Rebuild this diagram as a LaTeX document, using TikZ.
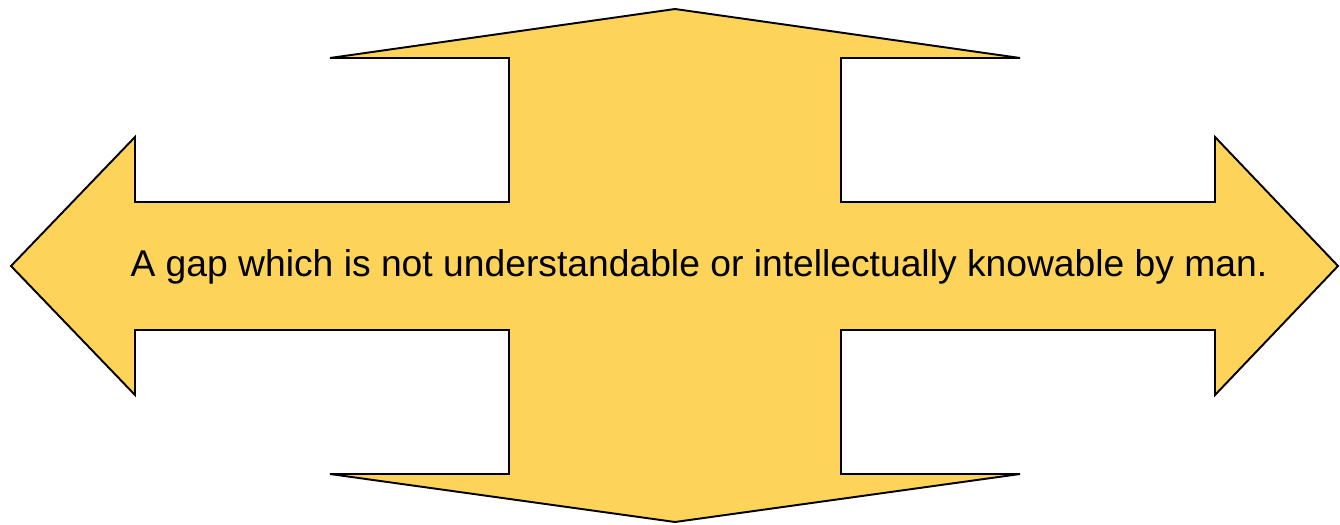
\documentclass[tikz,border=0pt]{standalone}
\usepackage{fontspec}
\setmainfont{Liberation Sans}
\definecolor{arrowfill}{RGB}{253,212,89}
\begin{document}
\begin{tikzpicture}[x=0.2mm,y=-0.2mm,line join=miter]
\useasboundingbox (0,0) rectangle (1340,525);
\draw[fill=arrowfill,line width=1.1pt] (675,9)--(1020,58)--(841,58)--(841,202)--(1215,202)--(1215,137)--(1338,266)
  --(1215,395)--(1215,330)--(841,330)--(841,474)--(1020,474)--(675,522)--(330,474)--(509,474)--(509,330)
  --(135,330)--(135,395)--(11,266)--(135,137)--(135,202)--(509,202)--(509,58)--(330,58)--cycle;
\node[inner sep=0pt] (gap) at (699,267) {\fontsize{21.2}{26}\selectfont A gap which is not understandable or intellectually knowable by man.};
\end{tikzpicture}
\end{document}
